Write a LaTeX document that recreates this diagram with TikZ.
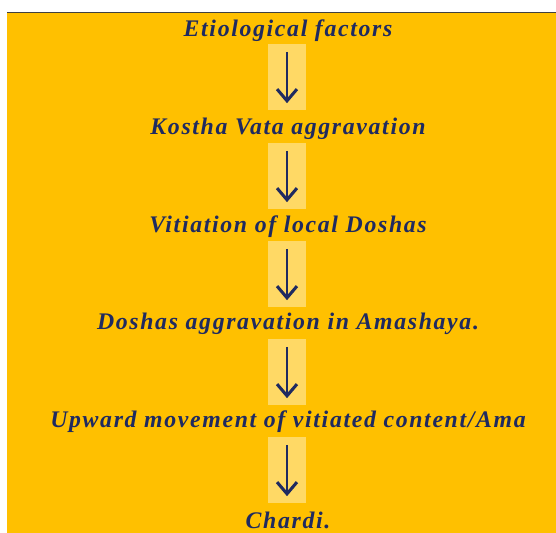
\documentclass[tikz,border=0pt]{standalone}
\usepackage{fontspec}
\newfontfamily\flowfont[LetterSpace=7]{Liberation Serif}
\usetikzlibrary{arrows.meta}
\definecolor{panelorange}{HTML}{FFC000}
\definecolor{boxyellow}{HTML}{FFD965}
\definecolor{textnavy}{HTML}{1F2A60}
\tikzset{
  steptext/.style={text=textnavy,font=\flowfont\fontsize{20.3}{24}\selectfont\bfseries\itshape,inner sep=0pt},
  arrowbox/.style={fill=boxyellow,minimum width=32.4pt,minimum height=56.3pt,inner sep=0pt},
  flowarrow/.style={textnavy,line width=1pt,-{Straight Barb[length=10pt,width=17pt,line width=2.6pt]},shorten <=7pt,shorten >=6pt}
}
\begin{document}
\begin{tikzpicture}[x=0.03cm,y=-0.03cm]
\useasboundingbox (0,0) rectangle (556,533);
\fill[panelorange] (7,13) rectangle (556,533);
\draw[line width=1.6pt,black!75] (7,12.5) -- (556,12.5);
\node[steptext] (t1) at (288,31) {Etiological factors};
\node[arrowbox] (a1) at (287,77) {};
\node[steptext] (t2) at (288,129) {Kostha Vata aggravation};
\node[arrowbox] (a2) at (287,176) {};
\node[steptext] (t3) at (288,227) {Vitiation of local Doshas};
\node[arrowbox] (a3) at (287,274) {};
\node[steptext] (t4) at (288,324) {Doshas aggravation in Amashaya.};
\node[arrowbox] (a4) at (287,372) {};
\node[steptext] (t5) at (288,422) {Upward movement of vitiated content/Ama};
\node[arrowbox] (a5) at (287,470) {};
\node[steptext] (t6) at (288,520) {Chardi.};
\draw[flowarrow] (a1.north) -- (a1.south);
\draw[flowarrow] (a2.north) -- (a2.south);
\draw[flowarrow] (a3.north) -- (a3.south);
\draw[flowarrow] (a4.north) -- (a4.south);
\draw[flowarrow] (a5.north) -- (a5.south);
\end{tikzpicture}
\end{document}
